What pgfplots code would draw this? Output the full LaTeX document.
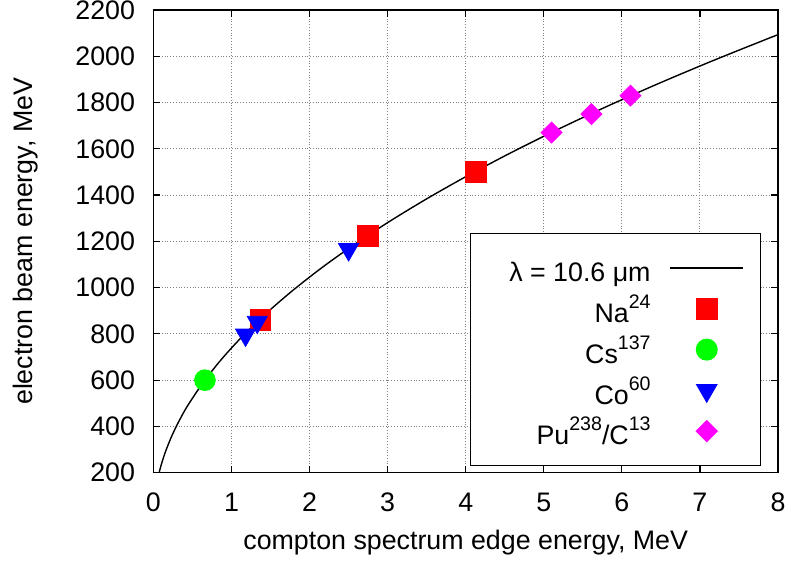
\documentclass[border=0pt]{standalone}
\usepackage{fontspec}
\setmainfont{Liberation Sans}
\usepackage{pgfplots}
\pgfplotsset{compat=1.18}
\definecolor{mred}{RGB}{255,0,0}
\definecolor{mgreen}{RGB}{0,255,0}
\definecolor{mblue}{RGB}{0,0,255}
\definecolor{mmag}{RGB}{255,0,255}
\newcommand{\lfont}{\fontsize{13.4}{16}\selectfont}
\newcommand{\sups}[1]{\raisebox{7pt}{\fontsize{9.8}{11}\selectfont #1}}
\newcommand{\lent}[1]{\makebox[81.8pt][r]{\rule[-5.6pt]{0pt}{20.75pt}#1}}
\pgfplotsset{
  markleg/.style={legend image code/.code={\draw[mark repeat=2,mark phase=2,##1] plot coordinates {(0pt,0pt) (18.25pt,0pt) (36.5pt,0pt)};}},
  lineleg/.style={legend image code/.code={\draw[##1] (0pt,0pt) -- (36.5pt,0pt);}},
}
\begin{document}
\begin{tikzpicture}
\begin{axis}[
  scale only axis, width=312.5pt, height=231.5pt,
  xmin=0, xmax=8, ymin=200, ymax=2200,
  xtick={0,1,...,8}, ytick={200,400,...,2200},
  tick align=inside, major tick length=3.5pt,
  tick style={black, line width=0.6pt},
  axis line style={line width=0.7pt},
  grid=major, major grid style={densely dotted, gray, line width=0.5pt},
  /pgf/number format/1000 sep={}, /pgf/number format/assume math mode=true,
  tick label style={font=\lfont, inner sep=0pt},
  yticklabel style={anchor=east, xshift=-9pt},
  xticklabel style={anchor=north, yshift=-10pt},
  xlabel={compton spectrum edge energy, MeV},
  ylabel={electron beam energy, MeV},
  label style={font=\lfont, inner sep=0pt},
  xlabel style={at={(axis description cs:0.5,-0.1663)}, anchor=base},
  ylabel style={at={(axis description cs:-0.1928,0.5)}, anchor=base},
  legend style={at={(rel axis cs:0.9731,0.0136)}, anchor=south east, draw=black, line width=0.6pt,
    inner xsep=8.35pt, inner ysep=9pt, font=\lfont, nodes={inner sep=0pt}, column sep=9.5pt, row sep=3.75pt},
  legend plot pos=right,
]
\addplot[black, line width=0.7pt, smooth, lineleg] coordinates {
(0.0733,200) (0.0905,222.3) (0.1118,247.0) (0.1352,271.7) (0.1609,296.4) (0.2190,345.8) (0.2860,395.2)
(0.3620,444.6) (0.4468,494.0) (0.6433,592.8) (0.8755,691.6) (1.1433,790.4) (1.4468,889.2)
(1.7858,988.0) (2.1604,1086.8) (2.5706,1185.6) (3.0164,1284.4) (3.4977,1383.2) (4.0145,1482.0)
(4.5667,1580.8) (5.1545,1679.6) (5.7777,1778.4) (6.4364,1877.2) (7.1304,1976.0) (7.8599,2074.8)
(8.0856,2104.4)
};
\addlegendentry{\lent{λ = 10.6 μm}}
\addplot[only marks, mark=square*, mark size=5.2pt, color=mred, markleg] coordinates {
(1.37,861) (2.75,1225) (4.13,1500)
};
\addlegendentry{\lent{Na\sups{24}}}
\addplot[only marks, mark=*, mark size=5.2pt, color=mgreen, markleg] coordinates {
(0.66,600)
};
\addlegendentry{\lent{Cs\sups{137}}}
\addplot[only marks, mark=triangle*, mark size=5.8pt, color=mblue, mark options={rotate=180}, markleg] coordinates {
(1.18,796) (1.33,851) (2.50,1165)
};
\addlegendentry{\lent{Co\sups{60}}}
\addplot[only marks, mark=square*, mark size=3.7pt, color=mmag, mark options={rotate=45}, markleg] coordinates {
(5.10,1670) (5.61,1750) (6.11,1830)
};
\addlegendentry{\lent{Pu\sups{238}/C\sups{13}}}
\end{axis}
\pgfresetboundingbox
\path[use as bounding box] ([xshift=-76.75pt,yshift=-45.5pt]current axis.south west) rectangle ([xshift=6.5pt,yshift=5pt]current axis.north east);
\end{tikzpicture}
\end{document}
